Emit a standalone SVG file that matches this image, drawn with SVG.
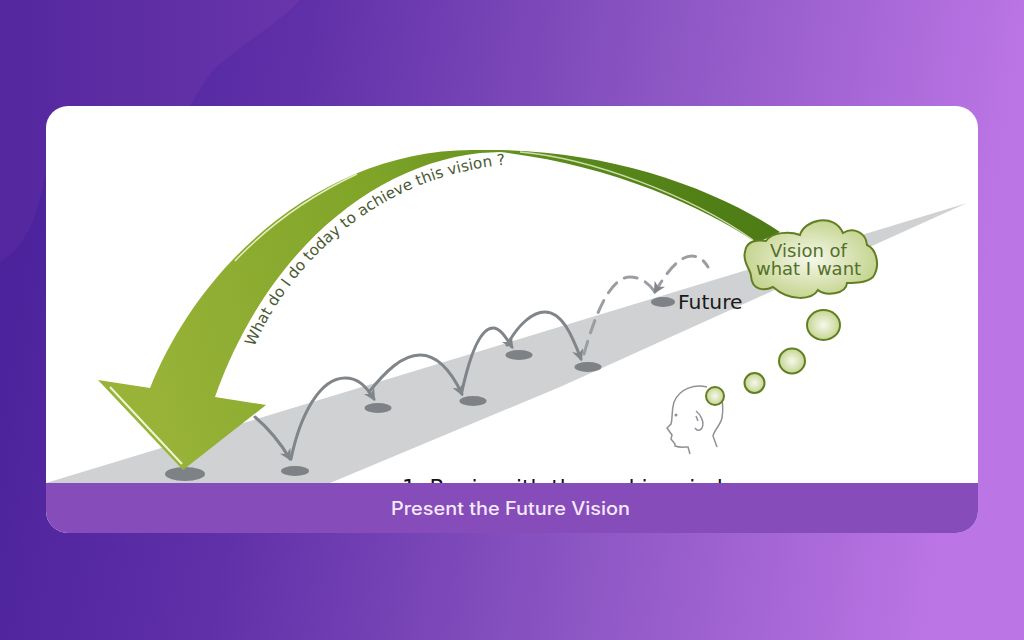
<svg xmlns="http://www.w3.org/2000/svg" width="1024" height="640" viewBox="0 0 1024 640">
  <style>
    .hop { fill: none; stroke: #80858a; stroke-width: 3; stroke-linecap: round; }
    .dash { stroke: #9a9ea2; stroke-dasharray: 13 9; }
    .spot { fill: #7e8286; }
    .bubble { fill: url(#bubbleFill); stroke: #617f22; stroke-width: 2; }
    .vision { font-family: "DejaVu Sans", sans-serif; font-size: 18px; fill: #54702a; text-anchor: middle; }
  </style>
  <defs>
    <linearGradient id="bg" x1="0" y1="0" x2="1" y2="0.1">
      <stop offset="0" stop-color="#48209a"/>
      <stop offset="0.3" stop-color="#6030a8"/>
      <stop offset="0.65" stop-color="#8c56c3"/>
      <stop offset="1" stop-color="#bc75e5"/>
    </linearGradient>
    <linearGradient id="lobe" x1="0" y1="0" x2="1" y2="0">
      <stop offset="0" stop-color="#54279e"/>
      <stop offset="1" stop-color="#6935ab"/>
    </linearGradient>
    <linearGradient id="arc" gradientUnits="userSpaceOnUse" x1="150" y1="400" x2="780" y2="230">
      <stop offset="0" stop-color="#98b338"/>
      <stop offset="0.42" stop-color="#7fa428"/>
      <stop offset="0.7" stop-color="#5a8a1c"/>
      <stop offset="1" stop-color="#4d7a14"/>
    </linearGradient>
    <radialGradient id="bubbleFill">
      <stop offset="0" stop-color="#f6f8ec"/>
      <stop offset="1" stop-color="#c6d591"/>
    </radialGradient>
    <clipPath id="card"><rect x="46" y="106" width="932" height="427" rx="22"/></clipPath>
    <marker id="tip" viewBox="0 0 10 10" refX="8" refY="5" markerWidth="5" markerHeight="4" orient="auto-start-reverse">
      <path d="M0 0L10 5L0 10L3 5Z" fill="#80858a"/>
    </marker>
    <path id="curve" d="M254 347C290 265 375 175 512 164"/>
  </defs>

  <!-- backdrop -->
  <rect width="1024" height="640" fill="url(#bg)"/>
  <path d="M0 0H300C280 22 245 42 215 68C205 80 198 92 188 110L46 170C40 205 30 245 0 262Z" fill="url(#lobe)"/>

  <!-- card -->
  <g clip-path="url(#card)">
    <rect x="46" y="106" width="932" height="427" fill="#fff"/>

    <!-- road towards the horizon -->
    <polygon points="46,483 967,203 560,387 330,483" fill="#cfd1d3"/>
    <text x="402" y="495" font-family="'DejaVu Sans', sans-serif" font-size="21.700" fill="#111">1. Begin with the end in mind</text>

    <g id="spots">
      <ellipse class="spot" cx="185" cy="474" rx="20" ry="7"/>
      <ellipse class="spot" cx="295" cy="471" rx="14" ry="5"/>
      <ellipse class="spot" cx="378" cy="408" rx="13.500" ry="5"/>
      <ellipse class="spot" cx="473" cy="401" rx="13.500" ry="5"/>
      <ellipse class="spot" cx="519" cy="355" rx="13.500" ry="5"/>
      <ellipse class="spot" cx="588" cy="367" rx="13.500" ry="5"/>
      <ellipse class="spot" cx="663" cy="302" rx="12" ry="5"/>
    </g>

    <g id="connectors">
      <path class="hop" marker-end="url(#tip)" d="M255 417C268 428 280 442 290 459"/>
      <path class="hop" marker-end="url(#tip)" d="M291 459C300 415 320 378 345 378C358 378 366 386 374 399"/>
      <path class="hop" marker-end="url(#tip)" d="M369 392C385 372 402 355 420 355C440 355 453 375 462 394"/>
      <path class="hop" marker-end="url(#tip)" d="M462 391C470 355 480 328 493 328C500 328 505 336 512 347"/>
      <path class="hop" marker-end="url(#tip)" d="M507 345C518 325 532 312 545 312C562 312 572 335 581 359"/>
      <path class="hop dash" d="M584 354C595 315 610 277 630 277C642 277 650 285 655 292"/>
      <path class="hop dash" marker-start="url(#tip)" d="M655 292C665 275 678 256 692 256C700 256 705 262 708 267"/>
    </g>

    <!-- sweeping arrow from the vision back to today -->
    <g id="arrow">
      <path d="M183 470L98 380L150 388C205 252 335 146 480 150C600 148 710 185 780 232L757 243C700 205 610 165 500 152L480 153C370 165 265 255 215 397L266 405Z" fill="url(#arc)"/>
      <path d="M110 387L182 464" fill="none" stroke="#f0f5d8" stroke-width="2"/>
      <path d="M235 261C268 226 310 196 357 174" fill="none" stroke="#e5edc0" stroke-width="1.500"/>
      <path d="M520 152C590 158 690 195 753 240" fill="none" stroke="#e8efc8" stroke-width="1.500" opacity="0.8"/>
      <text font-family="'DejaVu Sans', sans-serif" font-size="15.300" fill="#4b5a33"><textPath href="#curve">What do I do today to achieve this vision ?</textPath></text>
    </g>

    <g id="cloud">
      <path class="bubble" d="M745 252C746 242 755 239 766 241C772 232 790 231 800 235C804 220 834 212 843 233C853 227 866 232 867 245C876 249 881 265 873 277C866 283 855 283 847 283C846 295 825 296 818 290C812 300 790 302 773 287C765 291 752 291 751 276C751 270 742 262 745 252Z"/>
      <text class="vision" x="808.500" y="257">Vision of</text>
      <text class="vision" x="808.500" y="275">what I want</text>
    </g>

    <g id="thoughts">
      <ellipse class="bubble" cx="823.500" cy="325" rx="16.500" ry="15"/>
      <ellipse class="bubble" cx="792" cy="361" rx="13" ry="12.500"/>
      <circle class="bubble" cx="754.500" cy="383" r="10"/>
    </g>

    <g id="head">
      <path d="M707 387C695 384 680 388 674 402C671 412 673 418 671 424L667 428L672 435L671 439L675 444L675 446C680 448 685 447 688 447L690 454M715 388C722 393 724 405 722 418C720 426 714 430 713 436L717 447M696 411C700 414 705 422 702 428C700 431 697 431 695 428M696 416L698 421" fill="none" stroke="#8e9296" stroke-width="1.500"/>
      <circle cx="676" cy="415" r="1.500" fill="#8e9296"/>
      <circle class="bubble" cx="715" cy="396" r="9"/>
    </g>

    <g id="label-future">
      <text x="678" y="309" font-family="'DejaVu Sans', sans-serif" font-size="20.300" fill="#1a1a1a">Future</text>
    </g>

    <g id="caption">
      <rect x="46" y="483" width="932" height="50" fill="#854cba"/>
      <text x="510.500" y="515" font-family="Inter, 'Noto Sans', sans-serif" font-size="18" font-weight="500" fill="#f5e9fb" text-anchor="middle" textLength="239" lengthAdjust="spacingAndGlyphs">Present the Future Vision</text>
    </g>
  </g>
</svg>
